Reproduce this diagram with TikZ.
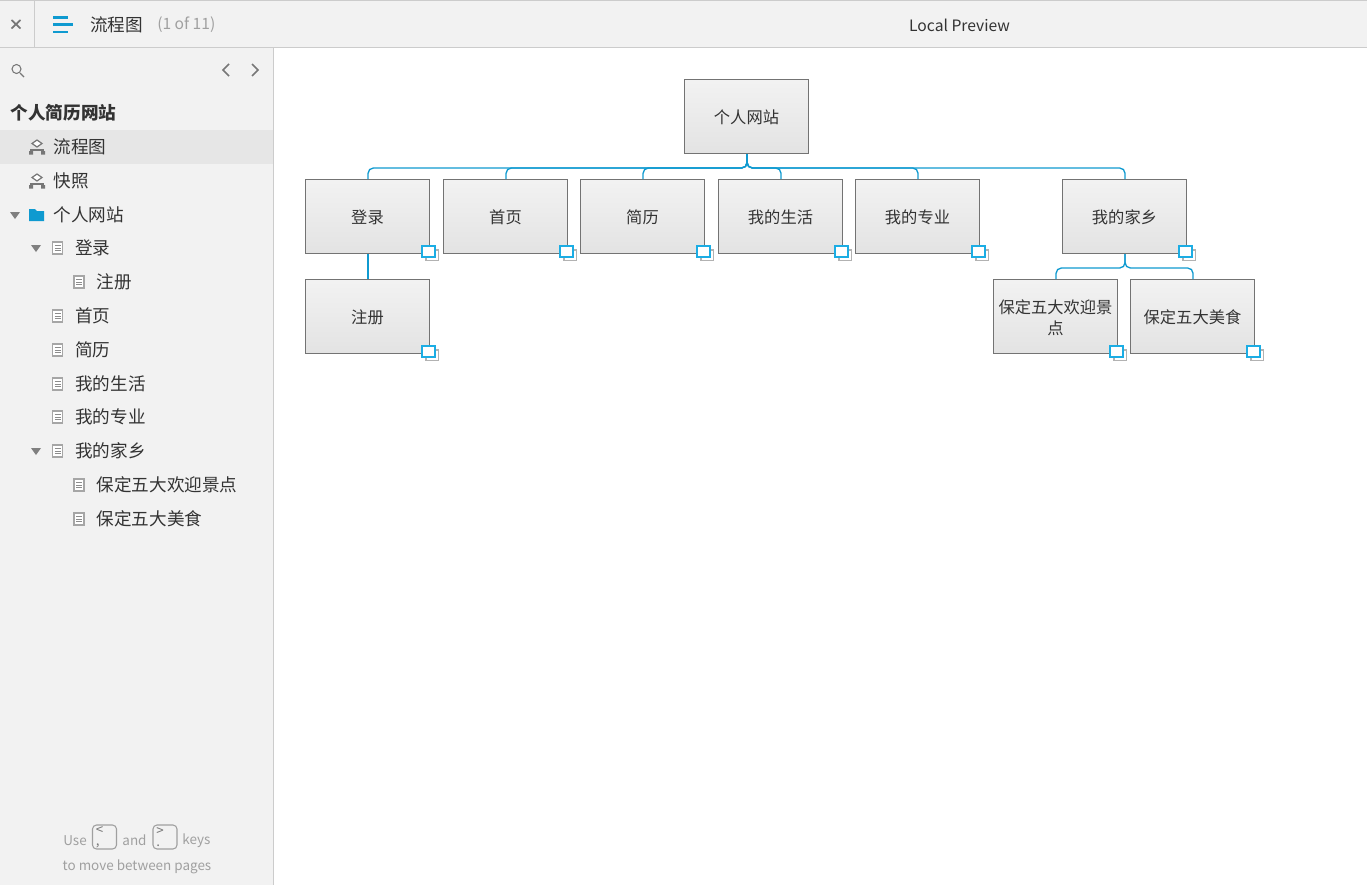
\documentclass[tikz,border=0pt]{standalone}
\usepackage{fontspec}
\setmainfont{Noto Sans CJK SC}
\usetikzlibrary{positioning}
\definecolor{barbg}{HTML}{F2F2F2}
\definecolor{rowbg}{HTML}{E6E6E6}
\definecolor{rulegray}{HTML}{CCCCCC}
\definecolor{inkgray}{HTML}{333333}
\definecolor{icongray}{HTML}{777777}
\definecolor{hintgray}{HTML}{A0A0A0}
\definecolor{linkblue}{HTML}{0F9AD0}
\definecolor{markblue}{HTML}{1CADE4}
\tikzset{
    pagebox/.style={rectangle,draw=black!55,line width=0.75pt,top color=black!5,bottom color=black!11,
        minimum width=93pt,minimum height=55.5pt,inner sep=1pt,align=center,text=inkgray,font=\fontsize{12.2}{16}\selectfont},
    link/.style={draw=linkblue,line width=1pt,rounded corners=4pt},
    rowtext/.style={anchor=west,inner sep=0pt,text=inkgray,font=\fontsize{13.2}{16}\selectfont},
    hint/.style={inner sep=0pt,text=hintgray,font=\fontsize{10.1}{13}\selectfont},
    keybox/.style={rectangle,draw=hintgray,line width=0.8pt,rounded corners=3pt,minimum width=18pt,minimum height=18pt,
        inner sep=0pt,text width=13pt,align=left,text=icongray,font=\fontsize{10}{8.5}\selectfont},
}
\newcommand{\boxtext}[1]{\raisebox{0pt}[11.5pt][0.5pt]{#1}}
% small pair of squares on a box corner
\newcommand{\boxmark}[1]{
    \draw[draw=black!30,line width=0.9pt,fill=white,shift={(#1.south east)}] (-4,-4) rectangle ++(12.5,10.5);
    \draw[draw=markblue,line width=1.4pt,fill=white,shift={(#1.south east)}] (-8,-8) rectangle ++(13,11);
}
\newcommand{\dociconat}[2]{
    \draw[draw=black!35,line width=0.9pt,fill=white] (#1-5,#2-6) rectangle ++(10,12);
    \foreach \k in {-2.5,0,2.5} {\draw[black!45,line width=0.6pt] (#1-3,#2+\k) -- ++(6,0);}
}
\newcommand{\treeiconat}[2]{
    \draw[icongray,line width=0.9pt,fill=white] (#1,#2-7) -- ++(5,3.5) -- ++(-5,3.5) -- ++(-5,-3.5) -- cycle;
    \draw[icongray,line width=0.9pt] (#1-6,#2+5) -- ++(0,-2) -- ++(12,0) -- ++(0,2);
    \fill[icongray] (#1-8,#2+4) rectangle ++(4,3.5) (#1+4,#2+4) rectangle ++(4,3.5);
}
\newcommand{\openarrow}[2]{
    \fill[black!50] (#1-5,#2-3) -- ++(10,0) -- ++(-5,7) -- cycle;
}

\begin{document}
\begin{tikzpicture}[x=0.75pt,y=-0.75pt]
    \useasboundingbox (0,0) rectangle (1367,885);
    % chrome
    \fill[barbg] (0,0) rectangle (1367,47);
    \fill[barbg] (0,47) rectangle (273,885);
    \fill[rowbg] (0,130) rectangle (273,164);
    \draw[rulegray,line width=0.75pt] (0,0.5) -- (1367,0.5);
    \draw[rulegray,line width=0.75pt] (0,47.5) -- (1367,47.5);
    \draw[rulegray,line width=0.75pt] (34.5,0) -- (34.5,47);
    \draw[rulegray,line width=0.75pt] (273.5,47) -- (273.5,885);
    \draw[icongray,line width=1.3pt] (11.5,20) -- (20.5,28.5) (20.5,20) -- (11.5,28.5);
    \draw[linkblue,line width=1.8pt] (53,17.5) -- (68,17.5) (53,24.5) -- (73,24.5) (53,32) -- (68,32);
    \node (title) at (90,25) [rowtext] {流程图};
    \node (counter) at (157,25) [rowtext,text=hintgray,font=\fontsize{11.7}{15}\selectfont] {(1 of 11)};
    \node (preview) at (959.5,25) [inner sep=0pt,text=inkgray,font=\fontsize{11.75}{15}\selectfont] {Local Preview};
    % search and arrows
    \draw[icongray,line width=0.8pt] (16.5,69) circle (4.5);
    \draw[icongray,line width=1pt] (20,73) -- (24,77);
    \draw[icongray,line width=1.1pt] (229,64) -- (223,70) -- (229,76);
    \draw[icongray,line width=1.1pt] (252,64) -- (258,70) -- (252,76);
    % outline
    \node (project) at (10.5,113) [rowtext,font=\fontsize{13.2}{16}\selectfont\bfseries] {个人简历网站};
    \foreach \rowname/\xpos/\ypos/\rowlabel in {flow/53.5/147/流程图, shot/53.5/181/快照, site/53.5/215/个人网站,
        login/75/248/登录, reg/96.5/282/注册, home/75/316/首页, resume/75/350/简历, life/75/384/我的生活,
        major/75/417/我的专业, town/75/451/我的家乡, sights/96.5/485/保定五大欢迎景点, food/96.5/519/保定五大美食}
        {\node (row\rowname) at (\xpos,\ypos) [rowtext] {\rowlabel};}
    \treeiconat{37}{147}
    \treeiconat{37}{181}
    \openarrow{15}{215}
    \fill[linkblue] (29,209) -- (35,209) -- (37,211) -- (44,211) -- (44,221) -- (29,221) -- cycle;
    \openarrow{36}{248}
    \openarrow{36}{451}
    \foreach \ypos in {248,316,350,384,417,451} {\dociconat{57.5}{\ypos}}
    \foreach \ypos in {282,485,519} {\dociconat{79}{\ypos}}
    % footer
    \node (use) at (75,840.5) [hint] {Use};
    \node (keyleft) at (104.5,837) [keybox] {<\\,};
    \node (and) at (134.5,840.5) [hint] {and};
    \node (keyright) at (165,837) [keybox] {>\\.};
    \node (keys) at (196.5,840.5) [hint] {keys};
    \node (move) at (137,866.5) [hint] {to move between pages};
    % chart
    \node (top)    at (746.5,116.5) [pagebox] {\boxtext{个人网站}};
    \node (blogin) at (367.5,216.5) [pagebox] {\boxtext{登录}};
    \node (bhome)  at (505.5,216.5) [pagebox] {\boxtext{首页}};
    \node (bres)   at (642.5,216.5) [pagebox] {\boxtext{简历}};
    \node (blife)  at (780.5,216.5) [pagebox] {\boxtext{我的生活}};
    \node (bmajor) at (917.5,216.5) [pagebox] {\boxtext{我的专业}};
    \node (btown)  at (1124.5,216.5) [pagebox] {\boxtext{我的家乡}};
    \node (breg)   at (367.5,316.5) [pagebox] {\boxtext{注册}};
    \node (bsight) at (1055.5,316.5) [pagebox] {\boxtext{保定五大欢迎景}\\\boxtext{点}};
    \node (bfood)  at (1192.5,316.5) [pagebox] {\boxtext{保定五大美食}};
    \foreach \child in {blogin,bhome,bres,blife,bmajor,btown}
        {\draw[link] ([xshift=0.4pt]top.south) -- ++(0,14) -| ([xshift=0.4pt]\child.north);}
    \draw[link] ([xshift=0.4pt]blogin.south) -- ([xshift=0.4pt]breg.north);
    \draw[link] ([xshift=0.4pt]btown.south) -- ++(0,14) -| ([xshift=0.4pt]bsight.north);
    \draw[link] ([xshift=0.4pt]btown.south) -- ++(0,14) -| ([xshift=0.4pt]bfood.north);
    \foreach \child in {blogin,bhome,bres,blife,bmajor,btown,breg,bsight,bfood}
        {\boxmark{\child}}
\end{tikzpicture}
\end{document}
